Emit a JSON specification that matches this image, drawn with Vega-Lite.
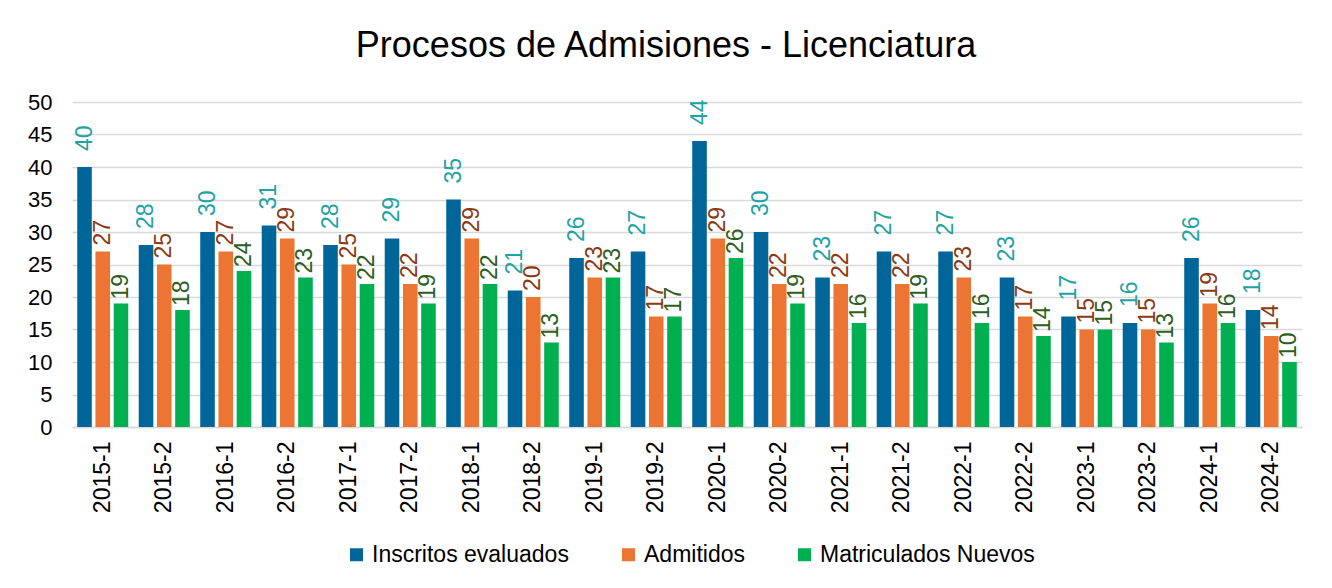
{
  "$schema": "https://vega.github.io/schema/vega-lite/v6.json",
  "width": 1230,
  "height": 325,
  "autosize": {"type": "none"},
  "padding": {"left": 72, "top": 102, "right": 30, "bottom": 161},
  "background": "white",
  "title": {
    "text": "Procesos de Admisiones - Licenciatura",
    "font": "Liberation Sans",
    "fontSize": 36,
    "fontWeight": "normal",
    "color": "#000000",
    "anchor": "middle",
    "dx": -21,
    "baseline": "alphabetic",
    "offset": -2
  },
  "config": {
    "font": "Liberation Sans",
    "view": {"stroke": null},
    "axis": {"labelFont": "Liberation Sans", "labelColor": "#000000"},
    "legend": {"labelFont": "Liberation Sans"}
  },
  "data": {
    "values": [
      {"periodo": "2015-1", "serie": "Inscritos evaluados", "valor": 40},
      {"periodo": "2015-1", "serie": "Admitidos", "valor": 27},
      {"periodo": "2015-1", "serie": "Matriculados Nuevos", "valor": 19},
      {"periodo": "2015-2", "serie": "Inscritos evaluados", "valor": 28},
      {"periodo": "2015-2", "serie": "Admitidos", "valor": 25},
      {"periodo": "2015-2", "serie": "Matriculados Nuevos", "valor": 18},
      {"periodo": "2016-1", "serie": "Inscritos evaluados", "valor": 30},
      {"periodo": "2016-1", "serie": "Admitidos", "valor": 27},
      {"periodo": "2016-1", "serie": "Matriculados Nuevos", "valor": 24},
      {"periodo": "2016-2", "serie": "Inscritos evaluados", "valor": 31},
      {"periodo": "2016-2", "serie": "Admitidos", "valor": 29},
      {"periodo": "2016-2", "serie": "Matriculados Nuevos", "valor": 23},
      {"periodo": "2017-1", "serie": "Inscritos evaluados", "valor": 28},
      {"periodo": "2017-1", "serie": "Admitidos", "valor": 25},
      {"periodo": "2017-1", "serie": "Matriculados Nuevos", "valor": 22},
      {"periodo": "2017-2", "serie": "Inscritos evaluados", "valor": 29},
      {"periodo": "2017-2", "serie": "Admitidos", "valor": 22},
      {"periodo": "2017-2", "serie": "Matriculados Nuevos", "valor": 19},
      {"periodo": "2018-1", "serie": "Inscritos evaluados", "valor": 35},
      {"periodo": "2018-1", "serie": "Admitidos", "valor": 29},
      {"periodo": "2018-1", "serie": "Matriculados Nuevos", "valor": 22},
      {"periodo": "2018-2", "serie": "Inscritos evaluados", "valor": 21},
      {"periodo": "2018-2", "serie": "Admitidos", "valor": 20},
      {"periodo": "2018-2", "serie": "Matriculados Nuevos", "valor": 13},
      {"periodo": "2019-1", "serie": "Inscritos evaluados", "valor": 26},
      {"periodo": "2019-1", "serie": "Admitidos", "valor": 23},
      {"periodo": "2019-1", "serie": "Matriculados Nuevos", "valor": 23},
      {"periodo": "2019-2", "serie": "Inscritos evaluados", "valor": 27},
      {"periodo": "2019-2", "serie": "Admitidos", "valor": 17},
      {"periodo": "2019-2", "serie": "Matriculados Nuevos", "valor": 17},
      {"periodo": "2020-1", "serie": "Inscritos evaluados", "valor": 44},
      {"periodo": "2020-1", "serie": "Admitidos", "valor": 29},
      {"periodo": "2020-1", "serie": "Matriculados Nuevos", "valor": 26},
      {"periodo": "2020-2", "serie": "Inscritos evaluados", "valor": 30},
      {"periodo": "2020-2", "serie": "Admitidos", "valor": 22},
      {"periodo": "2020-2", "serie": "Matriculados Nuevos", "valor": 19},
      {"periodo": "2021-1", "serie": "Inscritos evaluados", "valor": 23},
      {"periodo": "2021-1", "serie": "Admitidos", "valor": 22},
      {"periodo": "2021-1", "serie": "Matriculados Nuevos", "valor": 16},
      {"periodo": "2021-2", "serie": "Inscritos evaluados", "valor": 27},
      {"periodo": "2021-2", "serie": "Admitidos", "valor": 22},
      {"periodo": "2021-2", "serie": "Matriculados Nuevos", "valor": 19},
      {"periodo": "2022-1", "serie": "Inscritos evaluados", "valor": 27},
      {"periodo": "2022-1", "serie": "Admitidos", "valor": 23},
      {"periodo": "2022-1", "serie": "Matriculados Nuevos", "valor": 16},
      {"periodo": "2022-2", "serie": "Inscritos evaluados", "valor": 23},
      {"periodo": "2022-2", "serie": "Admitidos", "valor": 17},
      {"periodo": "2022-2", "serie": "Matriculados Nuevos", "valor": 14},
      {"periodo": "2023-1", "serie": "Inscritos evaluados", "valor": 17},
      {"periodo": "2023-1", "serie": "Admitidos", "valor": 15},
      {"periodo": "2023-1", "serie": "Matriculados Nuevos", "valor": 15},
      {"periodo": "2023-2", "serie": "Inscritos evaluados", "valor": 16},
      {"periodo": "2023-2", "serie": "Admitidos", "valor": 15},
      {"periodo": "2023-2", "serie": "Matriculados Nuevos", "valor": 13},
      {"periodo": "2024-1", "serie": "Inscritos evaluados", "valor": 26},
      {"periodo": "2024-1", "serie": "Admitidos", "valor": 19},
      {"periodo": "2024-1", "serie": "Matriculados Nuevos", "valor": 16},
      {"periodo": "2024-2", "serie": "Inscritos evaluados", "valor": 18},
      {"periodo": "2024-2", "serie": "Admitidos", "valor": 14},
      {"periodo": "2024-2", "serie": "Matriculados Nuevos", "valor": 10}
    ]
  },
  "encoding": {
    "x": {
      "field": "periodo",
      "type": "nominal",
      "sort": null,
      "scale": {"paddingInner": 0.17, "paddingOuter": 0.085},
      "axis": {
        "title": null,
        "labelAngle": -90,
        "labelFontSize": 23,
        "labelPadding": 14,
        "ticks": false,
        "domain": true,
        "domainColor": "#d9d9d9",
        "domainWidth": 1.5
      }
    },
    "xOffset": {
      "field": "serie",
      "type": "nominal",
      "scale": {"domain": ["Inscritos evaluados", "Admitidos", "Matriculados Nuevos"], "paddingInner": 0.2, "paddingOuter": 0}
    },
    "y": {
      "field": "valor",
      "type": "quantitative",
      "scale": {"domain": [0, 50], "nice": false},
      "axis": {
        "title": null,
        "values": [0, 5, 10, 15, 20, 25, 30, 35, 40, 45, 50],
        "labelFontSize": 22,
        "labelPadding": 20,
        "ticks": false,
        "domain": false,
        "grid": true,
        "gridColor": "#d9d9d9",
        "gridWidth": 1.5
      }
    }
  },
  "layer": [
    {
      "mark": {"type": "bar"},
      "encoding": {
        "color": {
          "field": "serie",
          "type": "nominal",
          "scale": {
            "domain": ["Inscritos evaluados", "Admitidos", "Matriculados Nuevos"],
            "range": ["#006699", "#ED7533", "#00B050"]
          },
          "legend": {
            "title": null,
            "orient": "none",
            "direction": "horizontal",
            "legendX": 273,
            "legendY": 441,
            "symbolType": "square",
            "symbolSize": 169,
            "symbolStrokeWidth": 0,
            "labelFontSize": 23,
            "labelLimit": 500,
            "labelColor": "#000000",
            "labelOffset": 4,
            "columnPadding": 48
          }
        }
      }
    },
    {
      "transform": [{"filter": "datum.serie === 'Inscritos evaluados'"}],
      "mark": {"type": "text", "angle": -90, "align": "left", "baseline": "middle", "dx": 16, "fontSize": 23, "color": "#1FA3A3"},
      "encoding": {"text": {"field": "valor", "type": "quantitative"}}
    },
    {
      "transform": [{"filter": "datum.serie === 'Admitidos'"}],
      "mark": {"type": "text", "angle": -90, "align": "left", "baseline": "middle", "dx": 6, "fontSize": 23, "color": "#8B3A14"},
      "encoding": {"text": {"field": "valor", "type": "quantitative"}}
    },
    {
      "transform": [{"filter": "datum.serie === 'Matriculados Nuevos'"}],
      "mark": {"type": "text", "angle": -90, "align": "left", "baseline": "middle", "dx": 4, "fontSize": 23, "color": "#2E5E22"},
      "encoding": {"text": {"field": "valor", "type": "quantitative"}}
    }
  ]
}
